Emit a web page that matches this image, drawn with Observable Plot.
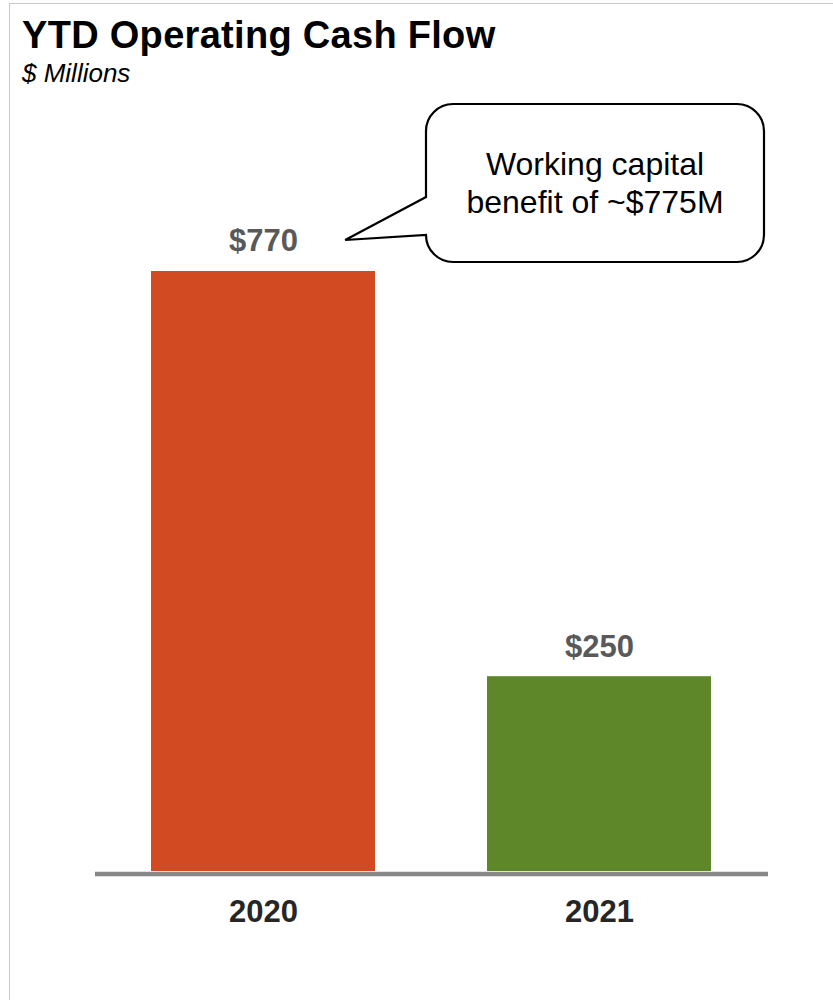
<!DOCTYPE html>
<html>
<head>
<meta charset="utf-8">
<script src="https://cdn.jsdelivr.net/npm/d3@7"></script>
<script src="https://cdn.jsdelivr.net/npm/@observablehq/plot@0.6"></script>
<style>
  html, body { margin: 0; padding: 0; background: #fff; }
  body { width: 833px; height: 1000px; overflow: hidden; position: relative; font-family: Arial, "Liberation Sans", sans-serif; }
  #frame { position: absolute; left: 9px; top: 3px; width: 900px; height: 1100px; border-top: 1.5px solid #c8c8c8; border-left: 1.5px solid #c8c8c8; box-sizing: border-box; pointer-events: none; }
  #head { height: 95px; position: relative; }
  #title { position: absolute; left: 22px; top: 14px; font-size: 38px; letter-spacing: 0.3px; font-weight: bold; color: #000; white-space: nowrap; }
  #subtitle { position: absolute; left: 22px; top: 58px; font-size: 26px; font-style: italic; color: #000; white-space: nowrap; }
  #chart svg { display: block; overflow: visible; }
</style>
</head>
<body>
<div id="frame"></div>
<div id="head">
  <div id="title">YTD Operating Cash Flow</div>
  <div id="subtitle">$ Millions</div>
</div>
<div id="chart"></div>
<script>
const years = ["2020", "2021"];
const cashFlow = [770, 250];
const barColors = ["#D14A21", "#5E8729"];
const valueLabels = ["$770", "$250"];
const calloutLines = ["Working capital", "benefit of ~$775M"];

const data = years.map((y, i) => ({year: y, value: cashFlow[i], label: valueLabels[i], color: barColors[i]}));

function calloutMark(index, scales, values, dimensions) {
  const x = scales.x, y = scales.y;
  const bw = x.bandwidth();
  const tipX = x(years[0]) + bw * 0.867;
  const tipY = y(cashFlow[0]) - 31;
  const R = dimensions.width - dimensions.marginRight - 4;
  const L = x(years[1]) - 61;
  const T = 9, B = y(cashFlow[0]) - 9;
  const r = 27;
  const y1 = T + 93, y2 = B - r;
  const path = `M${L + r},${T} H${R - r} A${r},${r} 0 0 1 ${R},${T + r} V${B - r} A${r},${r} 0 0 1 ${R - r},${B} H${L + r} A${r},${r} 0 0 1 ${L},${B - r} V${y2} L${tipX},${tipY} L${L},${y1} V${T + r} A${r},${r} 0 0 1 ${L + r},${T} Z`;
  const g = d3.create("svg:g");
  g.append("path").attr("d", path).attr("fill", "#fff").attr("stroke", "#000").attr("stroke-width", 2.2).attr("stroke-linejoin", "miter");
  const cx = (L + R) / 2, cy = (T + B) / 2;
  const lh = 37.7;
  calloutLines.forEach((t, i) => {
    g.append("text")
      .attr("x", cx)
      .attr("y", cy + (i - (calloutLines.length - 1) / 2) * lh)
      .attr("dy", "0.35em")
      .attr("text-anchor", "middle")
      .attr("font-family", "Arial, 'Liberation Sans', sans-serif")
      .attr("font-size", 32)
      .attr("fill", "#000")
      .text(t);
  });
  return g.node();
}

const chart = Plot.plot({
  width: 833,
  height: 905,
  marginLeft: 95,
  marginRight: 65,
  marginTop: 176,
  marginBottom: 129,
  style: {fontFamily: "Arial, 'Liberation Sans', sans-serif", background: "transparent", overflow: "visible"},
  x: {domain: years, paddingInner: 0.332, paddingOuter: 0.165, label: null},
  y: {domain: [0, 770], axis: null},
  marks: [
    Plot.barY(data, {x: "year", y: "value", fill: "color"}),
    Plot.ruleY([0], {stroke: "#878787", strokeWidth: 4.5, dy: 2.5}),
    Plot.text(data, {x: "year", y: "value", text: "label", dy: -30, fontSize: 31, fontWeight: "bold", fill: "#595959"}),
    Plot.axisX({tickSize: 0, tickPadding: 28, fontSize: 31, fontWeight: "bold", color: "#262626", label: null}),
    calloutMark
  ]
});
document.getElementById("chart").appendChild(chart);
</script>
</body>
</html>
